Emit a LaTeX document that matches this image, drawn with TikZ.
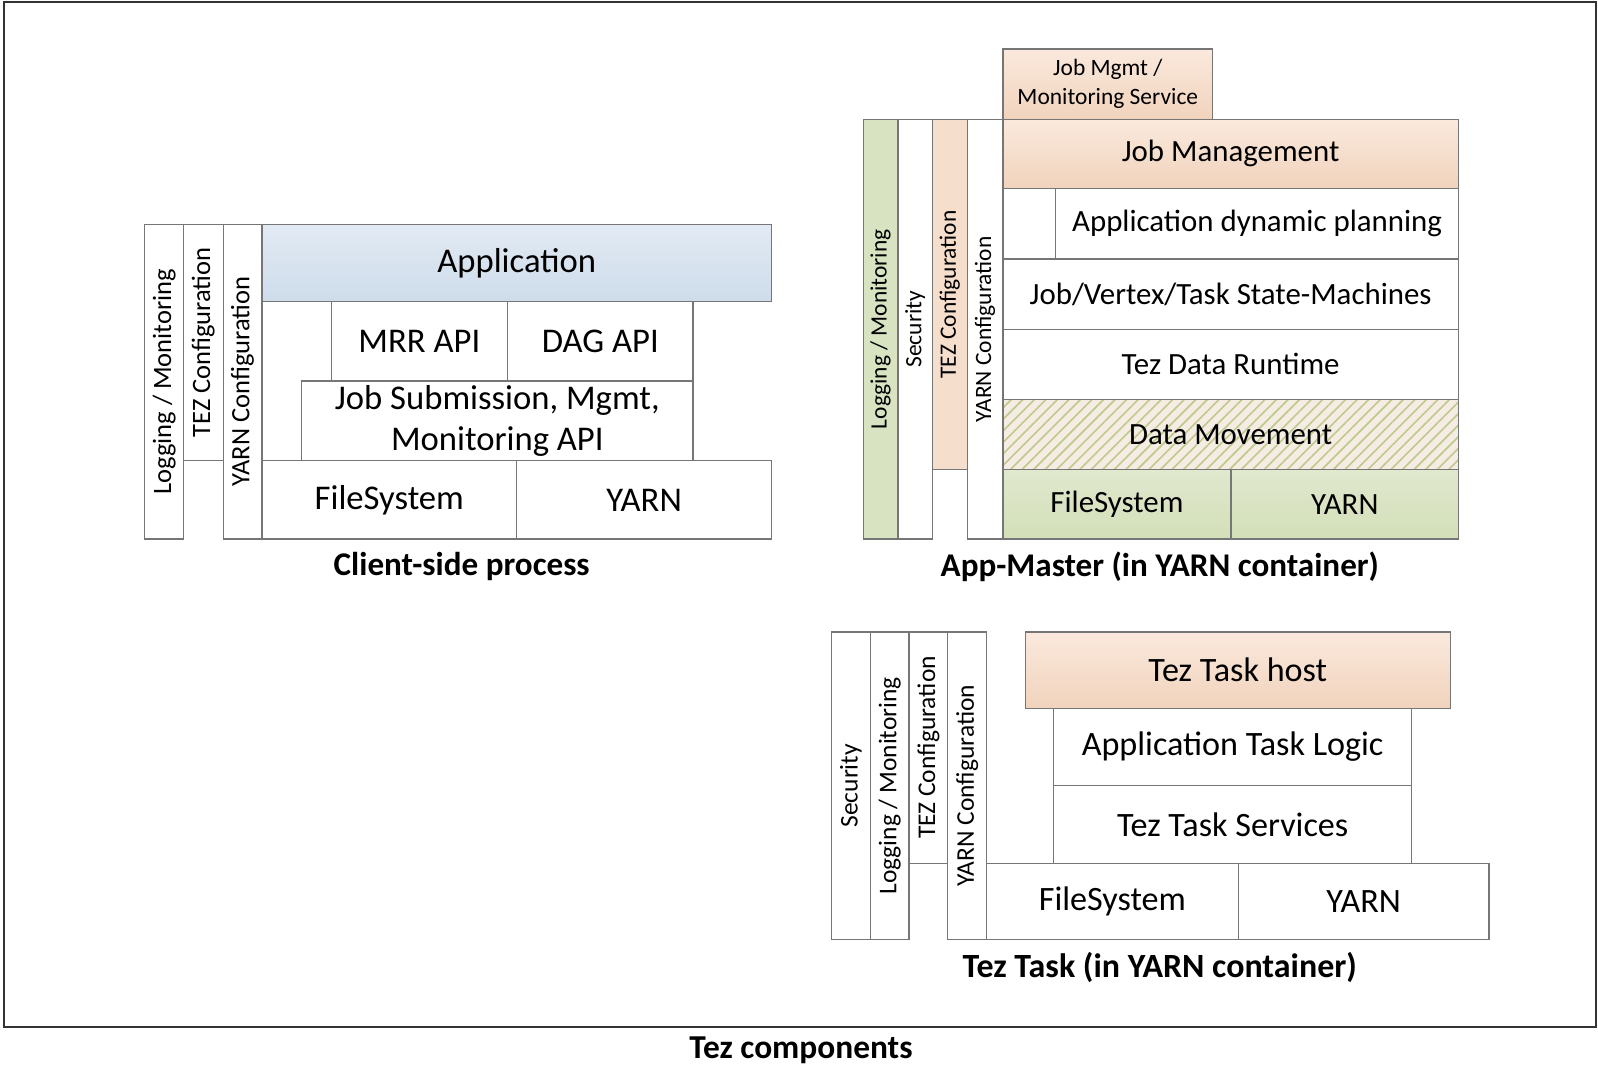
\documentclass[tikz,border=0pt]{standalone}
\usepackage{fontspec}
\setmainfont{Carlito}
\usetikzlibrary{patterns.meta}
\definecolor{bd}{HTML}{767676}
\definecolor{peachT}{RGB}{250,233,221}
\definecolor{peachB}{RGB}{241,211,188}
\definecolor{peachM}{RGB}{246,222,204}
\definecolor{greenT}{RGB}{224,232,206}
\definecolor{greenB}{RGB}{211,223,184}
\definecolor{greenM}{RGB}{216,227,194}
\definecolor{blueT}{RGB}{226,234,244}
\definecolor{blueB}{RGB}{206,220,234}
\definecolor{hatchbg}{RGB}{245,236,228}
\definecolor{hatchln}{RGB}{190,202,140}
\newcommand\bx[6][]{\node[box,#1,minimum width={#5-#3},minimum height={#6-#4}] (#2) at ({(#3+#5)/2},{(#4+#6)/2})}
\newcommand\vb[6][]{\node[box,#1,rotate=90,minimum width={#6-#4},minimum height={#5-#3}] (#2) at ({(#3+#5)/2},{(#4+#6)/2})}
\tikzset{
  box/.style={draw=bd,line width=1.3pt,inner sep=0pt,outer sep=0pt,align=center,text=black},
  peach/.style={top color=peachT,bottom color=peachB},
  green/.style={top color=greenT,bottom color=greenB},
  vpeach/.style={fill=peachM},
  vgreen/.style={fill=greenM},
  blue/.style={top color=blueT,bottom color=blueB},
  hatch/.style={preaction={fill=hatchbg},pattern={Lines[angle=45,distance=8pt,line width=1.6pt]},pattern color=hatchln},
  fa/.style={font=\fontsize{34}{41}\selectfont},
  fav/.style={font=\fontsize{26}{30}\selectfont},
  fb/.style={font=\fontsize{30.3}{36}\selectfont},
  fbs/.style={font=\fontsize{23}{28}\selectfont},
  fc/.style={font=\fontsize{33.5}{40}\selectfont},
  fcv/.style={font=\fontsize{25}{30}\selectfont},
  ttl/.style={font=\fontsize{32.5}{38}\selectfont\bfseries,inner sep=0pt},
}
\begin{document}
\begin{tikzpicture}[x=1pt,y=-1pt]
\useasboundingbox (0,0) rectangle (1568,1067.6);
\draw[line width=1.6pt,black!80] (4,2) rectangle (1566,1008);
% ---------- Client-side process ----------
\vb[fav]{cLog}{142}{220}{180}{529}{Logging / Monitoring};
\vb[fav]{cTez}{180}{220}{219}{452}{TEZ Configuration};
\vb[fav]{cYarnC}{219}{220}{257}{529}{YARN Configuration};
\bx[fa,blue]{cApp}{257}{220}{757}{296}{Application};
\bx[fa]{cMrr}{325}{296}{498}{374}{MRR API};
\bx[fa]{cDag}{498}{296}{680}{374}{DAG API};
\bx[fa]{cJob}{296}{374}{680}{452}{Job Submission, Mgmt,\\Monitoring API};
\bx[fa]{cFs}{257}{452}{507}{529}{FileSystem};
\bx[fa]{cYarn}{507}{452}{757}{529}{YARN};
\node[ttl] (cTitle) at (453,556) {Client-side process};
% ---------- App-Master ----------
\bx[fbs,peach]{aSvc}{984}{48}{1190}{117}{Job Mgmt /\\Monitoring Service};
\vb[fbs,vgreen]{aLog}{847}{117}{881}{529}{Logging / Monitoring};
\vb[fbs]{aSec}{881}{117}{915}{529}{Security};
\vb[fbs,vpeach]{aTez}{915}{117}{949}{461}{TEZ Configuration};
\vb[fbs]{aYarnC}{949}{117}{984}{529}{YARN Configuration};
\bx[fb,peach]{aJob}{984}{117}{1431}{185}{Job Management};
\bx[fb]{aPlan}{1036}{185}{1431}{254}{Application dynamic planning};
\bx[fb]{aSm}{984}{254}{1431}{323}{Job/Vertex/Task State-Machines};
\bx[fb]{aRt}{984}{323}{1431}{392}{Tez Data Runtime};
\bx[fb,hatch]{aDm}{984}{392}{1431}{461}{};
\node[fb] (aDmT) at (aDm) {Data Movement};
\bx[fb,green]{aFs}{984}{461}{1208}{529}{FileSystem};
\bx[fb,green]{aYarn}{1208}{461}{1431}{529}{YARN};
\node[ttl] (aTitle) at (1138,556) {App-Master (in YARN container)};
% ---------- Tez Task ----------
\vb[fcv]{tSec}{816}{620}{854}{922}{Security};
\vb[fcv]{tLog}{854}{620}{892}{922}{Logging / Monitoring};
\vb[fcv]{tTez}{892}{620}{930}{847}{TEZ Configuration};
\vb[fcv]{tYarnC}{930}{620}{968}{922}{YARN Configuration};
\bx[fc,peach]{tHost}{1006}{620}{1423}{695}{Tez Task host};
\bx[fc]{tLogic}{1034}{695}{1385}{771}{Application Task Logic};
\bx[fc]{tSvc}{1034}{771}{1385}{847}{Tez Task Services};
\bx[fc]{tFs}{968}{847}{1215}{922}{FileSystem};
\bx[fc]{tYarn}{1215}{847}{1461}{922}{YARN};
\node[ttl,font=\fontsize{33.3}{38}\selectfont\bfseries] (tTitle) at (1138,949) {Tez Task (in YARN container)};
% ---------- caption ----------
\node[ttl,font=\fontsize{32.8}{38}\selectfont\bfseries] (cap) at (786,1031) {Tez components};
\end{tikzpicture}
\end{document}
